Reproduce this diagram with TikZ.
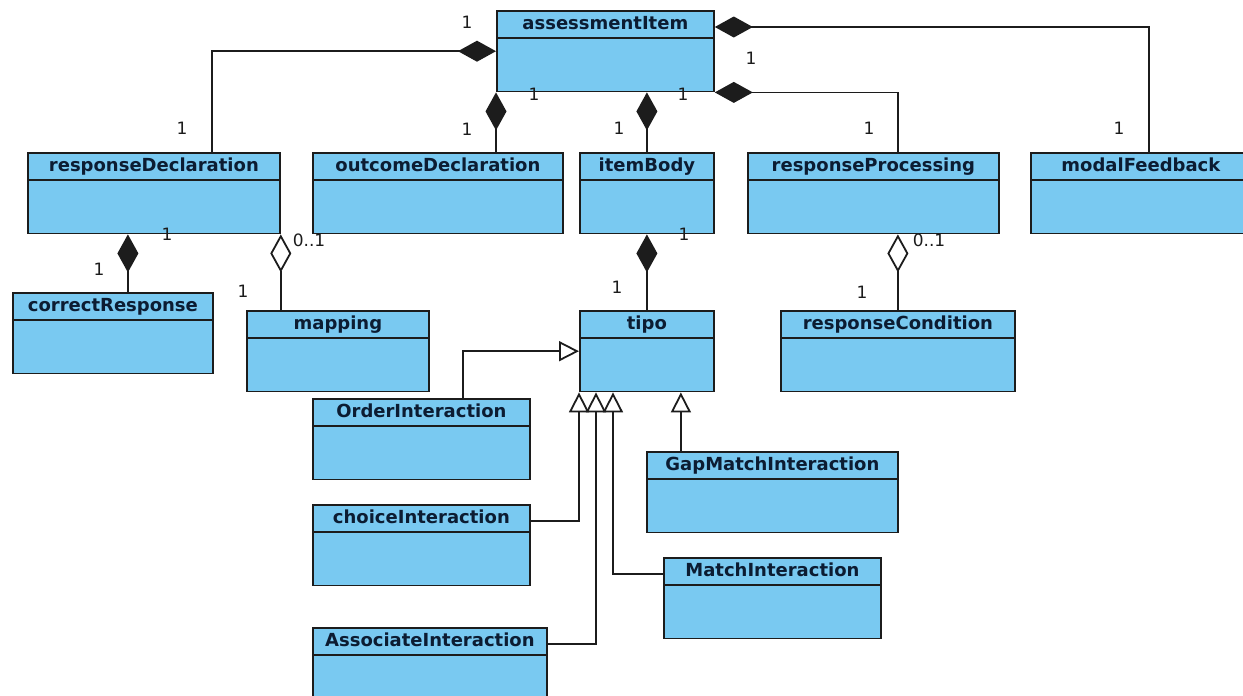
\documentclass[tikz,border=0pt]{standalone}
\usepackage{fontspec}
\setmainfont{DejaVu Sans}
\usetikzlibrary{shapes.multipart,arrows.meta,positioning}
\definecolor{clsfill}{RGB}{121,201,241}
\definecolor{clstext}{RGB}{12,28,50}
\definecolor{clsline}{RGB}{28,28,28}
\begin{document}
\begin{tikzpicture}[x=1pt,y=-1pt,
classbox/.style={
draw=clsline,
fill=clsfill,
line width=1.8pt,
rectangle split,
rectangle split parts=2,
inner sep=0pt,
anchor=north west,
align=center,
text=clstext,
font=\fontsize{18}{20}\selectfont\bfseries,
execute at begin node={\rule[-7pt]{0pt}{25pt}}},
assoc/.style={line width=1.8pt,draw=clsline},
comp/.style={{Diamond[length=38pt,width=21pt]}-},
aggr/.style={{Diamond[length=38pt,width=21pt,open,fill=white]}-},
gen/.style={-{Triangle[length=20pt,width=20pt,open,fill=white]}},
mult/.style={font=\fontsize{17}{19}\selectfont,text=clsline,inner sep=0pt}]
\useasboundingbox (0,0) rectangle (1243,696);
\clip (0,0) rectangle (1243,696);

% root and its parts
\node[classbox,text width=217pt] (ai) at (496,10) {assessmentItem\nodepart{two}\rule{0pt}{45pt}};
\node[classbox,text width=252pt] (rd) at (27,152) {responseDeclaration\nodepart{two}\rule{0pt}{45pt}};
\node[classbox,text width=250pt] (od) at (312,152) {outcomeDeclaration\nodepart{two}\rule{0pt}{45pt}};
\node[classbox,text width=134pt] (ib) at (579,152) {itemBody\nodepart{two}\rule{0pt}{45pt}};
\node[classbox,text width=251pt] (rp) at (747,152) {responseProcessing\nodepart{two}\rule{0pt}{45pt}};
\node[classbox,text width=220pt] (mf) at (1030,152) {modalFeedback\nodepart{two}\rule{0pt}{45pt}};

% second level
\node[classbox,text width=200pt] (cr) at (12,292) {correctResponse\nodepart{two}\rule{0pt}{45pt}};
\node[classbox,text width=182pt] (mp) at (246,310) {mapping\nodepart{two}\rule{0pt}{45pt}};
\node[classbox,text width=134pt] (tp) at (579,310) {tipo\nodepart{two}\rule{0pt}{45pt}};
\node[classbox,text width=234pt] (rc) at (780,310) {responseCondition\nodepart{two}\rule{0pt}{45pt}};

% interactions
\node[classbox,text width=217pt] (oi) at (312,398) {OrderInteraction\nodepart{two}\rule{0pt}{45pt}};
\node[classbox,text width=251pt] (gmi) at (646,451) {GapMatchInteraction\nodepart{two}\rule{0pt}{45pt}};
\node[classbox,text width=217pt] (ci) at (312,504) {choiceInteraction\nodepart{two}\rule{0pt}{45pt}};
\node[classbox,text width=217pt] (mi) at (663,557) {MatchInteraction\nodepart{two}\rule{0pt}{45pt}};
\node[classbox,text width=234pt] (asi) at (312,627) {AssociateInteraction\nodepart{two}\rule{0pt}{45pt}};

% compositions
\draw[assoc,comp] (ai.west) -| ([xshift=58pt]rd.north);
\draw[assoc,comp] (ai.south west) -- (ai.south west |- od.north);
\draw[assoc,comp] (ib.north |- ai.south) -- (ib.north);
\draw[assoc,comp] (ai.south east) -| ([xshift=24.5pt]rp.north);
\draw[assoc,comp] ([yshift=-17pt]ai.north east) -| ([xshift=8pt]mf.north);
\draw[assoc,comp] ([xshift=15pt]cr.north |- rd.south) -- ([xshift=15pt]cr.north);
\draw[assoc,aggr] (rd.south east) -- (rd.south east |- mp.north);
\draw[assoc,comp] (tp.north |- ib.south) -- (tp.north);
\draw[assoc,aggr] (rc.north |- rp.south) -- (rc.north);

% generalisations
\draw[assoc,gen] ([xshift=41.5pt]oi.north) |- (tp.west);
\draw[assoc,gen] ([yshift=-17pt]ci.north east) -| (tp.south west);
\draw[assoc,gen] ([yshift=-17pt]asi.north east) -| ([xshift=17pt]tp.south west);
\draw[assoc,gen] ([yshift=-17pt]mi.north west) -| ([xshift=34pt]tp.south west);
\draw[assoc,gen] ([xshift=-91.5pt]gmi.north) -- ([xshift=-91.5pt]gmi.north |- tp.south);

% multiplicities
\node[mult] (m1) at (467,22) {1};
\node[mult] (m2) at (182,128) {1};
\node[mult] (m3) at (534,94) {1};
\node[mult] (m4) at (467,129) {1};
\node[mult] (m5) at (683,94) {1};
\node[mult] (m6) at (619,128) {1};
\node[mult] (m7) at (751,58) {1};
\node[mult] (m8) at (869,128) {1};
\node[mult] (m9) at (1119,128) {1};
\node[mult] (m10) at (167,234) {1};
\node[mult] (m11) at (99,269) {1};
\node[mult] (m12) at (309,240) {0..1};
\node[mult] (m13) at (243,291) {1};
\node[mult] (m14) at (684,234) {1};
\node[mult] (m15) at (617,287) {1};
\node[mult] (m16) at (929,240) {0..1};
\node[mult] (m17) at (862,292) {1};
\end{tikzpicture}
\end{document}
